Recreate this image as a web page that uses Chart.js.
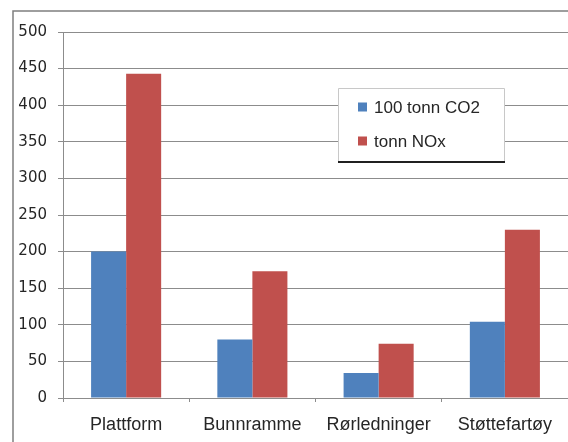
<!DOCTYPE html>
<html>
<head>
<meta charset="utf-8">
<script src="https://cdn.jsdelivr.net/npm/chart.js@4"></script>
<style>
  html, body { margin: 0; padding: 0; background: #ffffff; }
  #wrap { position: relative; width: 568px; height: 442px; }
</style>
</head>
<body>
<div id="wrap"><canvas id="c" width="568" height="442"></canvas></div>
<script>
// Utslipp per fase
const categories = ['Plattform', 'Bunnramme', 'Rørledninger', 'Støttefartøy'];
const co2Values = [200, 80, 34, 104];   // 100 tonn CO2
const noxValues = [443, 173, 74, 230];  // tonn NOx
const seriesLabels = ['100 tonn CO2', 'tonn NOx'];
const seriesColors = ['#4f81bd', '#c0504d'];
const yTicks = [0, 50, 100, 150, 200, 250, 300, 350, 400, 450, 500];

// Frame around the chart (left and top edges)
const framePlugin = {
  id: 'frame',
  beforeDraw(chart) {
    const ctx = chart.ctx;
    ctx.save();
    ctx.fillStyle = '#ffffff';
    ctx.fillRect(0, 0, chart.width, chart.height);
    ctx.strokeStyle = '#7f7f7f';
    ctx.lineWidth = 1.5;
    ctx.beginPath();
    ctx.moveTo(13, chart.height);
    ctx.lineTo(13, 11);
    ctx.lineTo(chart.width, 11);
    ctx.stroke();
    ctx.restore();
  }
};

// Legend box drawn inside the plot area
const legendBoxPlugin = {
  id: 'legendBox',
  afterDraw(chart) {
    const ctx = chart.ctx;
    const x = 338, y = 88, w = 167, h = 74;
    ctx.save();
    ctx.fillStyle = '#ffffff';
    ctx.fillRect(x, y, w, h);
    ctx.strokeStyle = '#c8c8c8';
    ctx.lineWidth = 1;
    ctx.beginPath();
    ctx.moveTo(x + 0.5, y + h);
    ctx.lineTo(x + 0.5, y + 0.5);
    ctx.lineTo(x + w - 0.5, y + 0.5);
    ctx.lineTo(x + w - 0.5, y + h);
    ctx.stroke();
    ctx.strokeStyle = '#202020';
    ctx.lineWidth = 2;
    ctx.beginPath();
    ctx.moveTo(x, y + h);
    ctx.lineTo(x + w, y + h);
    ctx.stroke();
    ctx.font = '17px "Liberation Sans", Arial, sans-serif';
    ctx.textBaseline = 'middle';
    ctx.textAlign = 'left';
    chart.data.datasets.forEach((ds, i) => {
      const cy = 107 + i * 34;
      ctx.fillStyle = ds.backgroundColor;
      ctx.fillRect(358, cy - 4.5, 9, 9);
      ctx.fillStyle = '#262626';
      ctx.fillText(ds.label, 374, cy + 1);
    });
    ctx.restore();
  }
};

new Chart(document.getElementById('c'), {
  type: 'bar',
  data: {
    labels: categories,
    datasets: [
      { label: seriesLabels[0], data: co2Values, backgroundColor: seriesColors[0] },
      { label: seriesLabels[1], data: noxValues, backgroundColor: seriesColors[1] }
    ]
  },
  options: {
    responsive: false,
    animation: false,
    devicePixelRatio: 1,
    layout: { padding: { left: 0, right: 0, top: 32, bottom: 0 } },
    datasets: {
      bar: { categoryPercentage: 0.555, barPercentage: 1.0, borderWidth: 0 }
    },
    plugins: {
      legend: { display: false },
      tooltip: { enabled: false },
      title: { display: false }
    },
    scales: {
      x: {
        grid: {
          offset: true,
          drawOnChartArea: false,
          drawTicks: true,
          tickLength: 4,
          color: '#8c8c8c'
        },
        border: { display: true, color: '#8c8c8c', width: 1 },
        ticks: {
          color: '#262626',
          padding: 12,
          maxRotation: 0,
          autoSkip: false,
          font: { family: '"Liberation Sans", Arial, sans-serif', size: 18 }
        },
        afterFit(scale) { scale.height = 44; }
      },
      y: {
        min: 0,
        max: 500,
        afterBuildTicks(scale) {
          scale.ticks = yTicks.map(v => ({ value: v }));
        },
        grid: {
          color: '#8c8c8c',
          lineWidth: 1,
          drawTicks: true,
          tickLength: 5
        },
        border: { display: true, color: '#8c8c8c', width: 1 },
        ticks: {
          color: '#262626',
          padding: 11,
          font: { family: '"DejaVu Sans", sans-serif', size: 15 }
        },
        afterFit(scale) { scale.width = 63; }
      }
    }
  },
  plugins: [framePlugin, legendBoxPlugin]
});
</script>
</body>
</html>
